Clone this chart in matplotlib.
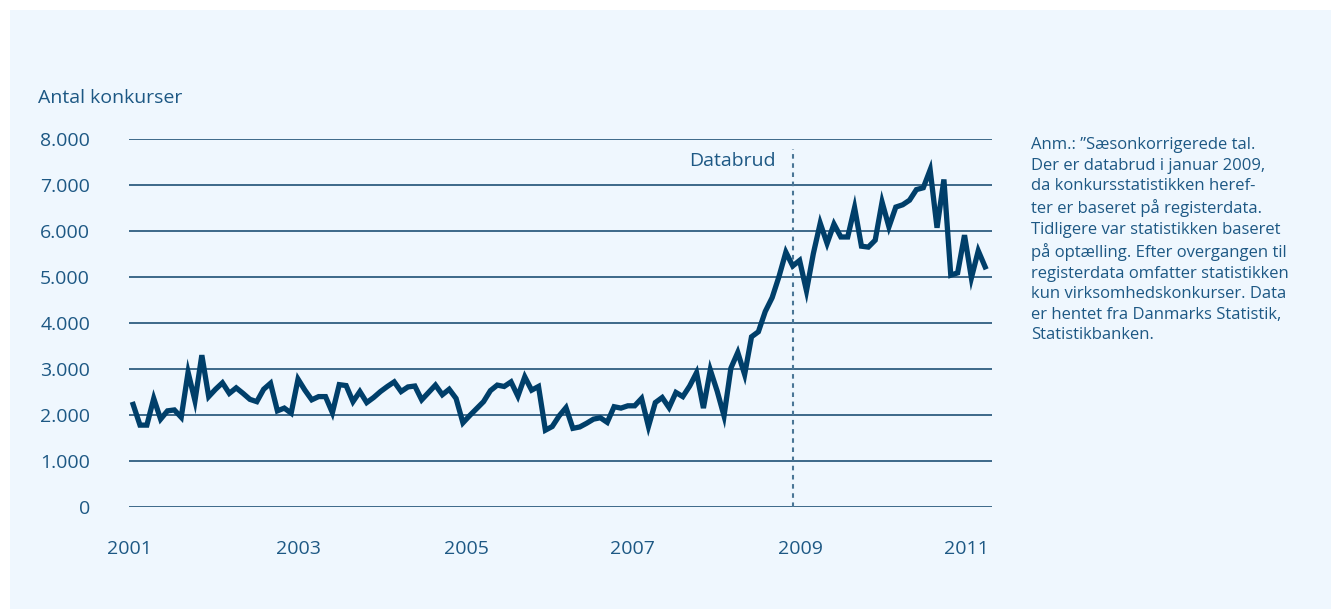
import numpy as np
from matplotlib import pyplot as plt
from matplotlib import patches

plt.rcParams['font.family'] = ['Open Sans', 'DejaVu Sans']

# monthly bankruptcies, seasonally adjusted, Jan 2001 - May 2011
start_year = 2001
konkurser = [
    2230, 1780, 1780, 2360, 1910, 2090, 2110, 1950, 2930, 2310, 3300, 2400,  # 2001
    2560, 2700, 2470, 2590, 2470, 2340, 2290, 2560, 2690, 2090, 2150, 2040,  # 2002
    2780, 2540, 2330, 2400, 2400, 2050, 2660, 2640, 2290, 2510, 2270, 2380,  # 2003
    2510, 2620, 2720, 2510, 2610, 2630, 2330, 2490, 2650, 2440, 2560, 2360,  # 2004
    1830, 1990, 2140, 2290, 2530, 2650, 2620, 2720, 2410, 2830, 2540, 2620,  # 2005
    1670, 1750, 1980, 2160, 1710, 1740, 1820, 1910, 1940, 1840, 2180, 2150,  # 2006
    2200, 2200, 2360, 1750, 2270, 2380, 2160, 2490, 2400, 2630, 2920, 2150,  # 2007
    2980, 2520, 1980, 3020, 3360, 2880, 3700, 3810, 4250, 4550, 5010, 5540,  # 2008
    5240, 5360, 4700, 5510, 6170, 5730, 6150, 5870, 5870, 6510, 5670, 5650,  # 2009
    5800, 6630, 6090, 6520, 6570, 6670, 6900, 6940, 7330, 6070, 7120, 5040,  # 2010
    5090, 5910, 4980, 5570, 5220,                                            # 2011
]
yticks = [0, 1000, 2000, 3000, 4000, 5000, 6000, 7000, 8000]
ytick_labels = ["0", "1.000", "2.000", "3.000", "4.000", "5.000", "6.000", "7.000", "8.000"]
xtick_years = [2001, 2003, 2005, 2007, 2009, 2011]
databrud_year = 2009

note = ("Anm.: \u201dSæsonkorrigerede tal.\n"
        "Der er databrud i januar 2009,\n"
        "da konkursstatistikken heref-\n"
        "ter er baseret på registerdata.\n"
        "Tidligere var statistikken baseret\n"
        "på optælling. Efter overgangen til\n"
        "registerdata omfatter statistikken\n"
        "kun virksomhedskonkurser. Data\n"
        "er hentet fra Danmarks Statistik,\n"
        "Statistikbanken.")

bg = "#eff7fe"
txt = "#1d5884"
linecol = "#003f6a"
gridcol = "#2f5e80"

W, H = 1331, 609
fig = plt.figure(figsize=(W / 100, H / 100), dpi=100)
fig.patch.set_facecolor("white")
fig.patches.append(patches.Rectangle((10 / W, 0), 1, 1 - 10 / H, transform=fig.transFigure,
                                     facecolor=bg, edgecolor="none", zorder=-10))

ax = fig.add_axes([129 / W, 1 - 507 / H, (992 - 129) / W, (507 - 139) / H])
ax.set_facecolor("none")

years = start_year + np.arange(len(konkurser)) / 12
ax.plot(years, konkurser, color=linecol, linewidth=3.8, solid_joinstyle="miter", zorder=3, clip_on=False)

for v in yticks:
    ax.axhline(v, color=gridcol, linewidth=1.3, zorder=1)

ax.vlines(databrud_year, 0, 7780, color="#4a7696", linewidth=1.5, linestyles=(0, (2.2, 2.2)), zorder=2)
ax.text(databrud_year - 0.2, 7520, "Databrud", color=txt, fontsize=14, ha="right", va="center")

ax.set_xlim(start_year - 0.025, start_year + 125 / 12)
ax.set_ylim(0, 8000)
ax.set_yticks(yticks)
ax.set_yticklabels(ytick_labels)
# the year labels sit slightly off the month grid in the original
ax.set_xticks([2000.95, 2003.0, 2005.04, 2007.06, 2009.09, 2011.1])
ax.set_xticklabels([str(y) for y in xtick_years])
ax.tick_params(axis="both", length=0, labelsize=14, labelcolor=txt)
ax.tick_params(axis="y", pad=28)
ax.tick_params(axis="x", pad=24)
for s in ax.spines.values():
    s.set_visible(False)

fig.text(38 / W, 1 - 98 / H, "Antal konkurser", color=txt, fontsize=14, ha="left", va="center")
fig.text(1031 / W, 1 - 137 / H, note, color=txt, fontsize=12, ha="left", va="top", linespacing=1.38)

plt.savefig("out.png", dpi=100, facecolor=fig.get_facecolor())
